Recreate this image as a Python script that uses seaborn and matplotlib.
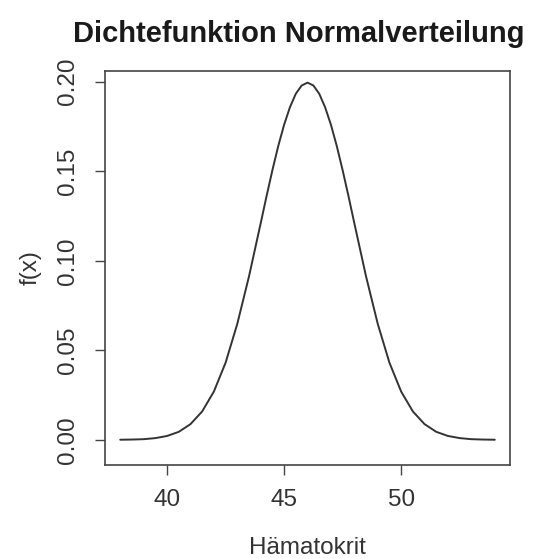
import matplotlib
matplotlib.use("Agg")
import matplotlib.pyplot as plt
import seaborn as sns
import pandas as pd

# Values
haematokrit = [38.0, 38.5, 39.0, 39.5, 40.0, 40.5, 41.0, 41.5, 42.0, 42.5, 43.0, 43.5,
               44.0, 44.25, 44.5, 44.75, 45.0, 45.25, 45.5, 45.75, 46.0,
               46.25, 46.5, 46.75, 47.0, 47.25, 47.5, 47.75, 48.0,
               48.5, 49.0, 49.5, 50.0, 50.5, 51.0, 51.5, 52.0, 52.5, 53.0, 53.5, 54.0]
dichte = [0.0001, 0.0002, 0.0004, 0.0010, 0.0022, 0.0045, 0.0088, 0.0159, 0.0270, 0.0431, 0.0648, 0.0913,
          0.1210, 0.1361, 0.1506, 0.1641, 0.1760, 0.1858, 0.1933, 0.1979, 0.1995,
          0.1979, 0.1933, 0.1858, 0.1760, 0.1641, 0.1506, 0.1361, 0.1210,
          0.0913, 0.0648, 0.0431, 0.0270, 0.0159, 0.0088, 0.0045, 0.0022, 0.0010, 0.0004, 0.0002, 0.0001]
x_ticks = [40, 45, 50]
y_ticks = [0.00, 0.05, 0.10, 0.15, 0.20]
y_ticklabels = ["0.00", "0.05", "0.10", "0.15", "0.20"]

sns.set_style("white")
plt.rcParams['font.family'] = ['Liberation Sans', 'DejaVu Sans']

df = pd.DataFrame({"x": haematokrit, "y": dichte})

fig = plt.figure(figsize=(5.45, 5.59), dpi=100)
ax = fig.add_axes([0.1927, 0.1682, 0.7431, 0.7048])
sns.lineplot(data=df, x="x", y="y", ax=ax, color="#333333", linewidth=1.4)

ax.set_xlim(37.35, 54.65)
ax.set_ylim(-0.014, 0.206)
ax.set_xticks(x_ticks)
ax.set_xticklabels([str(t) for t in x_ticks], fontsize=17.5, color="#333333")
ax.set_yticks(y_ticks)
ax.set_yticklabels(y_ticklabels, fontsize=17.5, color="#333333", rotation=90, va="center")
ax.tick_params(axis="x", direction="out", length=7, width=1.0, color="#444444",
               bottom=True, pad=10)
ax.tick_params(axis="y", direction="out", length=7, width=1.0, color="#444444",
               left=True, pad=12)
for s in ax.spines.values():
    s.set_color("#444444")
    s.set_linewidth(1.2)

ax.set_xlabel("Hämatokrit", fontsize=17.5, color="#333333", labelpad=19)
ax.set_ylabel("f(x)", fontsize=17.5, color="#333333", labelpad=11)
fig.suptitle("Dichtefunktion Normalverteilung", fontsize=21, fontweight="bold",
             x=0.548, y=0.965, color="#1a1a1a")

fig.savefig("out.png", dpi=100)
